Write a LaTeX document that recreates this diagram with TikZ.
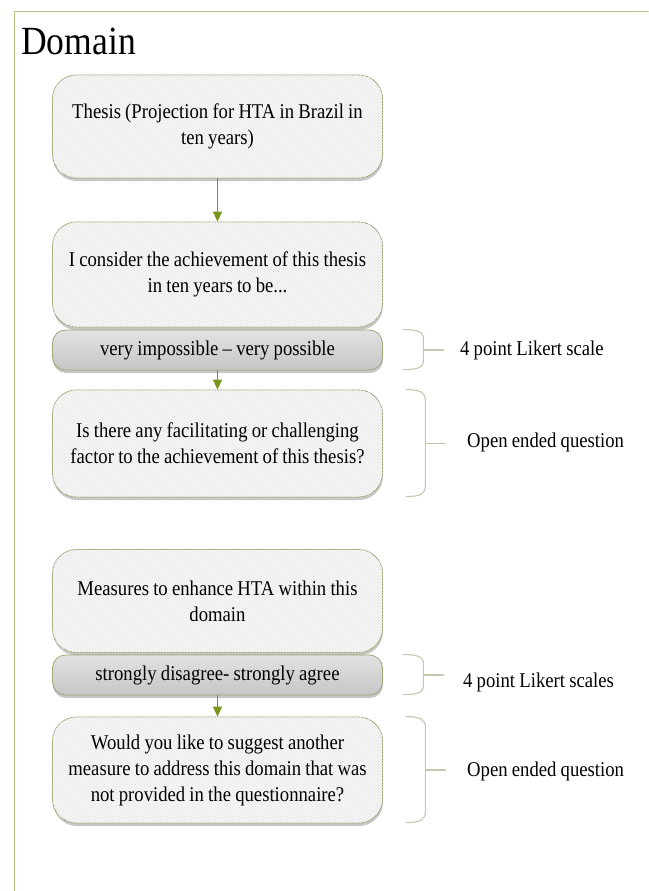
\documentclass[tikz,border=0pt]{standalone}
\usepackage{fontspec}
\setmainfont[FakeStretch=0.89,WordSpace=0.9]{Liberation Serif}
\usetikzlibrary{arrows.meta,shadows,patterns}
\definecolor{frameol}{RGB}{180,192,128}
\definecolor{boxline}{RGB}{160,166,118}
\definecolor{boxfill}{RGB}{236,236,236}
\definecolor{bartop}{RGB}{226,226,226}
\definecolor{barbottom}{RGB}{198,198,198}
\definecolor{flowol}{RGB}{118,150,28}
\definecolor{braceol}{RGB}{196,198,176}

\begin{document}
\begin{tikzpicture}[line cap=round,line join=round,x=1pt,y=1pt,
		>={Triangle[length=10pt,width=9pt]},
		qbox/.style={draw=boxline,line width=0.8pt,fill=boxfill,rounded corners=24pt,
			minimum width=330pt,text width=322pt,align=flush center,inner sep=0pt,
			font=\fontsize{21}{26}\selectfont,
			drop shadow={shadow xshift=0.5pt,shadow yshift=-3pt,opacity=0.45},
			postaction={pattern=north west lines,pattern color=white}},
		likertbar/.style={draw=boxline,line width=0.8pt,top color=bartop,bottom color=barbottom,
			rounded corners=13pt,minimum width=330pt,text width=322pt,align=flush center,inner sep=0pt,
			minimum height=40pt,font=\fontsize{21}{26}\selectfont,
			drop shadow={shadow xshift=0.5pt,shadow yshift=-3pt,opacity=0.45}},
		flow/.style={->,draw=flowol,fill=flowol,line width=1.4pt},
		bracket/.style={draw=braceol,line width=1.1pt},
		sidelabel/.style={font=\fontsize{21}{26}\selectfont,inner sep=0pt}]
				\useasboundingbox (0,0) rectangle (648,-891);
				% frame and title
				\draw [draw=frameol,line width=1pt] (648,-12) -- (14,-12) -- (14,-891);
				\node[anchor=west,inner sep=0pt,font=\fontsize{40}{44}\selectfont] (domain) at (21,-41) {Domain};
				% thesis part
				\node[qbox,minimum height=103pt] (thesis) at (217.5,-126.5) {Thesis (Projection for HTA in Brazil in\\ ten years)};
				\node[qbox,minimum height=105pt] (consider) at (217.5,-274.5) {I consider the achievement of this thesis\\ in ten years to be...};
				\node[likertbar] (likertA) at (217.5,-350) {very impossible -- very possible};
				\node[qbox,minimum height=107pt] (factor) at (217.5,-443.5) {Is there any facilitating or challenging\\ factor to the achievement of this thesis?};
				% measures part
				\node[qbox,minimum height=103pt] (measures) at (217.5,-601) {Measures to enhance HTA within this\\ domain};
				\node[likertbar] (likertB) at (217.5,-675) {strongly disagree- strongly agree};
				\node[qbox,minimum height=106pt] (suggest) at (217.5,-770) {Would you like to suggest another\\ measure to address this domain that was\\ not provided in the questionnaire?};
				\draw [flow] (thesis) -- (consider);
				\draw [flow] (likertA) -- (factor);
				\draw [flow] (likertB) -- (suggest);
				% brackets
				\draw [bracket] ([xshift=20.5pt]likertA.north east) .. controls +(14,0) and +(0,7) .. ++(20,-9) -- ++(0,-22) .. controls +(0,-7) and +(14,0) .. ++(-20,-9);
				\draw [bracket] ([xshift=40.5pt]likertA.east) -- ++(20,0);
				\draw [bracket] ([xshift=23.5pt]factor.north east) .. controls +(14,0) and +(0,8) .. ++(19,-11) -- ++(0,-85) .. controls +(0,-8) and +(14,0) .. ++(-19,-11);
				\draw [bracket] ([xshift=42.5pt]factor.east) -- ++(20,0);
				\draw [bracket] ([xshift=20.5pt]likertB.north east) .. controls +(14,0) and +(0,7) .. ++(20,-9) -- ++(0,-22) .. controls +(0,-7) and +(14,0) .. ++(-20,-9);
				\draw [bracket] ([xshift=40.5pt]likertB.east) -- ++(20,0);
				\draw [bracket] ([xshift=23.5pt]suggest.north east) .. controls +(14,0) and +(0,8) .. ++(19,-11) -- ++(0,-84) .. controls +(0,-8) and +(14,0) .. ++(-19,-11);
				\draw [bracket] ([xshift=42.5pt]suggest.east) -- ++(20,0);
				\node[sidelabel,anchor=west] (scaleA) at (460,-350) {4 point Likert scale};
				\node[sidelabel,anchor=west] (openA) at (467,-442) {Open ended question};
				\node[sidelabel,anchor=west] (scaleB) at (463,-682) {4 point Likert scales};
				\node[sidelabel,anchor=west] (openB) at (467,-771) {Open ended question};
\end{tikzpicture}
\end{document}
